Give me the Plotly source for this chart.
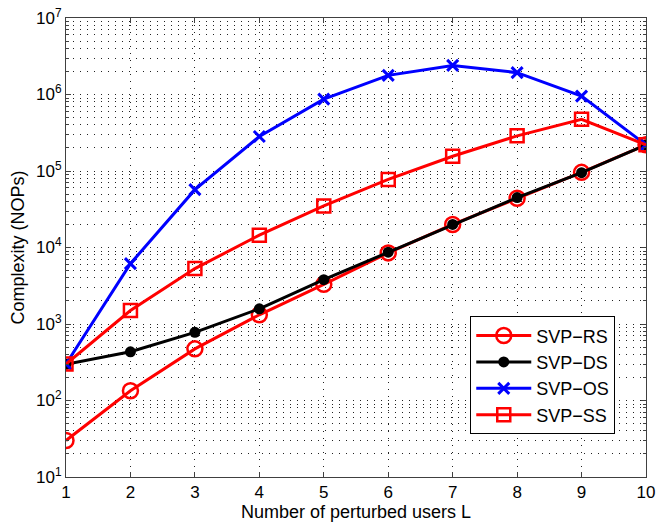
import plotly.graph_objects as go

# Number of perturbed users
users = [1, 2, 3, 4, 5, 6, 7, 8, 9, 10]

# Complexity (NOPs) for each scheme
svp_rs = [30, 134, 473, 1320, 3300, 8500, 20000, 44000, 96000, 220000]
svp_ds = [297, 433, 778, 1580, 3790, 8700, 20000, 45000, 95000, 220000]
svp_os = [300, 6150, 57000, 283000, 869000, 1780000, 2400000, 1930000, 951000, 220000]
svp_ss = [300, 1500, 5300, 14500, 35000, 77600, 156000, 288000, 474000, 220000]

y_tickvals = [10, 100, 1000, 10000, 100000, 1000000, 10000000]
y_ticktext = ["10<sup>1</sup>", "10<sup>2</sup>", "10<sup>3</sup>", "10<sup>4</sup>",
              "10<sup>5</sup>", "10<sup>6</sup>", "10<sup>7</sup>"]

FONT = "Liberation Sans, Arial, Helvetica, sans-serif"

fig = go.Figure()

fig.add_trace(go.Scatter(
    x=users, y=svp_rs, name="SVP\u2212RS", mode="lines+markers",
    line=dict(color="#ff0000", width=3),
    marker=dict(symbol="circle-open", size=15, color="#ff0000", line=dict(width=2.5)),
))
fig.add_trace(go.Scatter(
    x=users, y=svp_ds, name="SVP\u2212DS", mode="lines+markers",
    line=dict(color="#000000", width=3),
    marker=dict(symbol="circle", size=11, color="#000000"),
))
fig.add_trace(go.Scatter(
    x=users, y=svp_os, name="SVP\u2212OS", mode="lines+markers",
    line=dict(color="#0000ff", width=3),
    marker=dict(symbol="x-thin-open", size=11, color="#0000ff", line=dict(width=3, color="#0000ff")),
))
fig.add_trace(go.Scatter(
    x=users, y=svp_ss, name="SVP\u2212SS", mode="lines+markers",
    line=dict(color="#ff0000", width=3),
    marker=dict(symbol="square-open", size=13, color="#ff0000", line=dict(width=2.5)),
))

grid_dash = "1px,6px"
fig.update_xaxes(
    range=[1, 10], tickvals=users, ticks="inside", ticklen=5, tickcolor="#404040",
    showline=True, linecolor="#404040", linewidth=1, mirror="ticks",
    showgrid=True, gridcolor="#222222", gridwidth=1, griddash=grid_dash,
    zeroline=False, ticklabeloverflow="allow",
    tickfont=dict(family=FONT, size=17, color="#000"),
    title=dict(text="Number of perturbed users L", font=dict(family=FONT, size=18, color="#000"),
               standoff=3),
)
fig.update_yaxes(
    type="log", range=[1, 7], tickvals=y_tickvals, ticktext=y_ticktext,
    ticks="inside", ticklen=5, tickcolor="#404040",
    showline=True, linecolor="#404040", linewidth=1, mirror="ticks",
    showgrid=True, gridcolor="#222222", gridwidth=1, griddash=grid_dash,
    minor=dict(dtick="D1", ticks="inside", ticklen=3, tickcolor="#404040",
               showgrid=True, gridcolor="#222222", gridwidth=1, griddash=grid_dash),
    zeroline=False,
    tickfont=dict(family=FONT, size=17, color="#000"),
    title=dict(text="Complexity (NOPs)", font=dict(family=FONT, size=18, color="#000"),
               standoff=6),
)

fig.update_layout(
    width=661, height=529,
    margin=dict(l=66, r=6, t=14, b=52),
    paper_bgcolor="white", plot_bgcolor="white",
    font=dict(family=FONT, size=17, color="#000"),
    showlegend=True,
    legend=dict(
        x=0.697, y=0.35, xanchor="left", yanchor="top",
        bgcolor="white", bordercolor="#000", borderwidth=1,
        font=dict(family=FONT, size=18, color="#000"),
        itemwidth=55, tracegroupgap=0,
    ),
)

fig.write_html("out.html")
